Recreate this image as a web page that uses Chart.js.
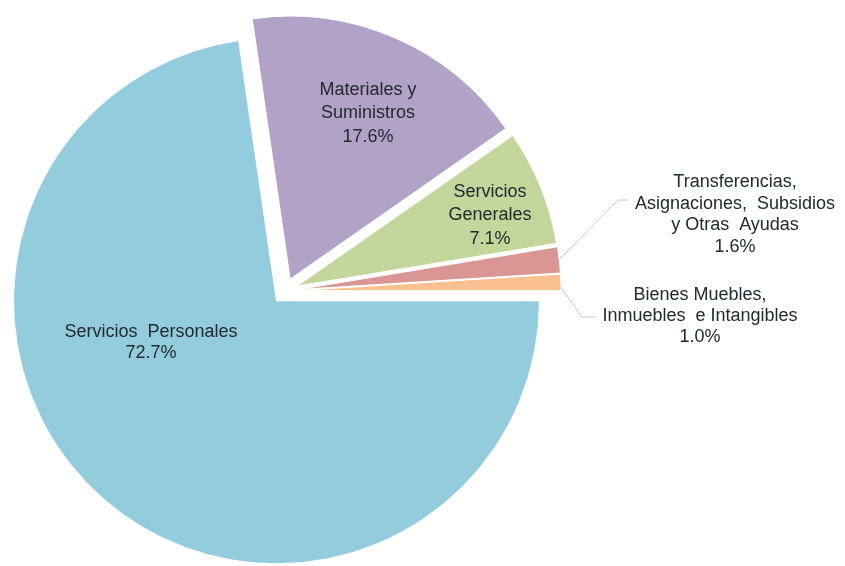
<!DOCTYPE html>
<html>
<head>
<meta charset="utf-8">
<script src="https://cdn.jsdelivr.net/npm/chart.js@4.4.1/dist/chart.umd.min.js"></script>
<style>
  html, body { margin: 0; padding: 0; background: #ffffff; }
  canvas { display: block; }
</style>
</head>
<body>
<canvas id="c" width="845" height="566"></canvas>
<script>
// ---- data ----
const categories = [
  'Servicios Personales',
  'Materiales y Suministros',
  'Servicios Generales',
  'Transferencias, Asignaciones, Subsidios y Otras Ayudas',
  'Bienes Muebles, Inmuebles e Intangibles'
];
const values = [72.7, 17.6, 7.1, 1.6, 1.0];
const labelLines = [
  ['Servicios  Personales'],
  ['Materiales y', 'Suministros'],
  ['Servicios', 'Generales'],
  ['Transferencias,', 'Asignaciones,  Subsidios', 'y Otras  Ayudas'],
  ['Bienes Muebles,', 'Inmuebles  e Intangibles']
];

// ---- styles / layout ----
const colors = ['#93CDDD', '#B3A2C7', '#C3D69B', '#D99694', '#FAC090'];
const EXPLODE = 13;
const labelLayout = [
  { x: 151, y: 332, lh: 21.5 },
  { x: 368, y: 90, lh: 23.3 },
  { x: 490, y: 192, lh: 23.3 },
  { x: 735, y: 182, lh: 21.7, leader: { t: 0.5, elbow: [618, 200], end: [628, 200] } },
  { x: 700, y: 295, lh: 21, leader: { t: 0.8, elbow: [582, 317], end: [596, 317] } }
];

function midAngle(el) { return (el.startAngle + el.endAngle) / 2; }

const explodePlugin = {
  id: 'explode',
  beforeDatasetDraw(chart, args) {
    const meta = chart.getDatasetMeta(args.index);
    meta.data.forEach(el => {
      const a = midAngle(el);
      el._ox = el.x; el._oy = el.y;
      el.x = el._ox + Math.cos(a) * EXPLODE;
      el.y = el._oy + Math.sin(a) * EXPLODE;
    });
  },
  afterDatasetDraw(chart, args) {
    const meta = chart.getDatasetMeta(args.index);
    meta.data.forEach(el => { el.x = el._ox; el.y = el._oy; });
  }
};

const labelPlugin = {
  id: 'sliceLabels',
  afterDraw(chart) {
    const ctx = chart.ctx;
    const meta = chart.getDatasetMeta(0);
    ctx.save();
    ctx.font = '18px "Liberation Sans", Arial, sans-serif';
    ctx.fillStyle = '#222a30';
    ctx.textAlign = 'center';
    ctx.textBaseline = 'middle';
    meta.data.forEach((el, i) => {
      const L = labelLayout[i];
      const lines = labelLines[i].concat([values[i].toFixed(1) + '%']);
      lines.forEach((s, k) => ctx.fillText(s, L.x, L.y + k * L.lh));
      if (L.leader) {
        const a0 = midAngle(el);
        const cx = el.x + Math.cos(a0) * EXPLODE;
        const cy = el.y + Math.sin(a0) * EXPLODE;
        const a = el.startAngle + (el.endAngle - el.startAngle) * L.leader.t;
        const sx = cx + Math.cos(a) * el.outerRadius;
        const sy = cy + Math.sin(a) * el.outerRadius;
        ctx.beginPath();
        ctx.strokeStyle = '#c8c8c8';
        ctx.lineWidth = 1;
        ctx.moveTo(sx, sy);
        ctx.lineTo(L.leader.elbow[0], L.leader.elbow[1]);
        ctx.lineTo(L.leader.end[0], L.leader.end[1]);
        ctx.stroke();
      }
    });
    ctx.restore();
  }
};

new Chart(document.getElementById('c'), {
  type: 'pie',
  data: {
    labels: categories,
    datasets: [{
      data: values,
      backgroundColor: colors,
      borderColor: '#ffffff',
      borderWidth: 1
    }]
  },
  options: {
    responsive: false,
    animation: false,
    rotation: 90,
    radius: 263,
    layout: { padding: { left: 0, right: 275, top: 16, bottom: 0 } },
    plugins: {
      legend: { display: false },
      tooltip: { enabled: false }
    },
    events: []
  },
  plugins: [explodePlugin, labelPlugin]
});
</script>
</body>
</html>
